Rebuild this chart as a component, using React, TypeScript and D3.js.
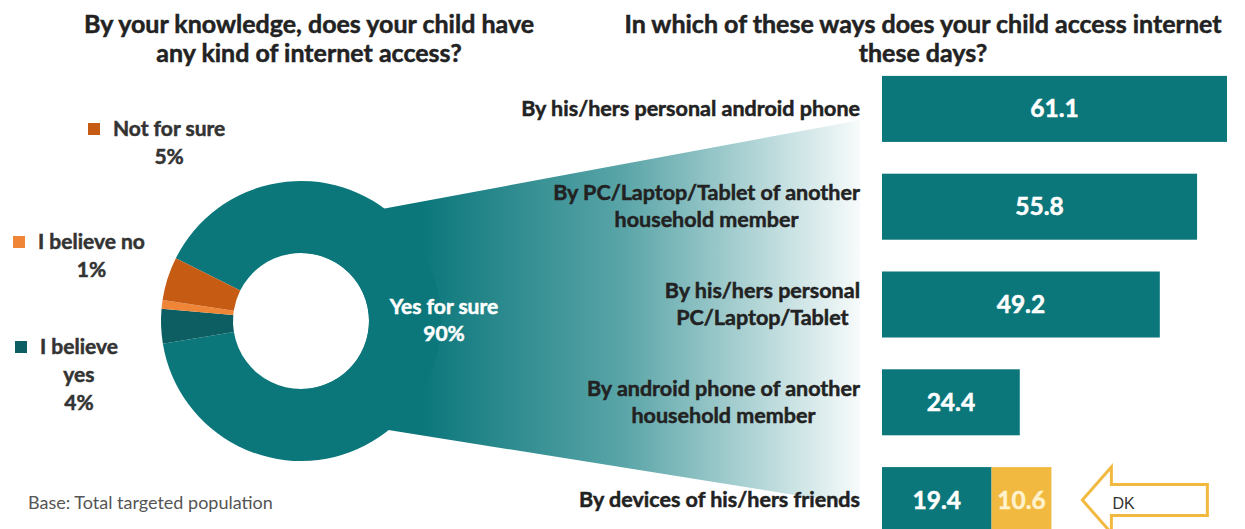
import React, { useEffect, useRef } from "react";
import * as d3 from "d3";

// donut: does the child have internet access
const pieLabels = ["Yes for sure", "I believe yes", "I believe no", "Not for sure"];
const pieValues = [90, 4, 1, 5];
const pieColors = ["#0b777b", "#0c5e63", "#ef8536", "#c65c14"];

// bars: ways of access
const barCategories = [
  "By his/hers personal android phone",
  "By PC/Laptop/Tablet of another|household member",
  "By his/hers personal|PC/Laptop/Tablet",
  "By android phone of another|household member",
  "By devices of his/hers friends",
];
const barValues = [61.1, 55.8, 49.2, 24.4, 19.4];
const dkValues = [0, 0, 0, 0, 10.6];

const leftTitle = ["By your knowledge, does your child have", "any kind of internet access?"];
const rightTitle = ["In which of these ways does your child access internet", "these days?"];

const W = 1245;
const H = 529;
const FONT = "Lato, 'Open Sans', sans-serif";

export default function App() {
  const ref = useRef<SVGSVGElement>(null);

  useEffect(() => {
    const svg = d3.select(ref.current);
    svg.selectAll("*").remove();

    const teal = "#0b777b";
    const gold = "#f2b940";

    // bold text helper, a thin stroke makes Lato look closer to the heavy original
    const bold = (sel: any, size: number, color: string) =>
      sel.attr("font-family", FONT).attr("font-weight", 700).attr("font-size", size)
        .attr("fill", color).attr("stroke", color).attr("stroke-width", 0.5);

    // scales
    const x = d3.scaleLinear().domain([0, 61.1]).range([882, 1227]);
    const y = d3.scaleBand<string>().domain(barCategories).range([27, 582]).paddingInner(0.325).paddingOuter(0.5);
    const bw = y.bandwidth();

    const cx = 301, cy = 321, rOut = 140, rIn = 68;

    // gradient for the funnel
    const defs = svg.append("defs");
    const grad = defs.append("linearGradient").attr("id", "funnel")
      .attr("gradientUnits", "userSpaceOnUse")
      .attr("x1", cx + rOut - 20).attr("x2", x(0) - 10).attr("y1", 0).attr("y2", 0);
    grad.append("stop").attr("offset", 0).attr("stop-color", teal);
    grad.append("stop").attr("offset", 0.45).attr("stop-color", "#5aa5a8");
    grad.append("stop").attr("offset", 1).attr("stop-color", "#ffffff");

    const fx = x(0) - 22;
    const topR = (y(barCategories[0]) as number) + bw * 0.67;
    const botR = (y(barCategories[4]) as number) + bw * 0.58;
    svg.append("path")
      .attr("d", `M${cx},${cy - 97}L${fx},${topR}L${fx},${botR}L${cx},${cy + 95}Z`)
      .attr("fill", "url(#funnel)");

    // donut
    const start = (-63.4 * Math.PI) / 180;
    const pie = d3.pie<number>().sort(null).value(d => d).startAngle(start).endAngle(start + 2 * Math.PI);
    const arc = d3.arc<d3.PieArcDatum<number>>().innerRadius(rIn).outerRadius(rOut);
    const dg = svg.append("g").attr("transform", `translate(${cx},${cy})`);
    dg.append("circle").attr("r", rIn).attr("fill", "#fff");
    dg.selectAll("path").data(pie(pieValues)).join("path")
      .attr("d", arc).attr("fill", (d, i) => pieColors[i]);

    bold(svg.append("text").attr("x", 444).attr("y", 314).attr("text-anchor", "middle"), 21, "#fff")
      .text(pieLabels[0]);
    bold(svg.append("text").attr("x", 444).attr("y", 341).attr("text-anchor", "middle"), 21, "#fff")
      .text(pieValues[0] + "%");

    // legend
    const legend = [
      { i: 3, x: 88, y: 129, lines: ["Not for sure"] },
      { i: 2, x: 13, y: 242, lines: ["I believe no"] },
      { i: 1, x: 15, y: 347, lines: ["I believe", "yes"] },
    ];
    legend.forEach(l => {
      const g = svg.append("g");
      g.append("rect").attr("x", l.x).attr("y", l.y - 6).attr("width", 12).attr("height", 12).attr("fill", pieColors[l.i]);
      const first = bold(g.append("text").attr("x", l.x + 25).attr("y", l.y + 7), 21, "#333")
        .text(l.lines[0]);
      const w = (first.node() as SVGTextElement).getComputedTextLength();
      const mid = l.x + 25 + w / 2;
      const rest = l.lines.slice(1).concat([pieValues[l.i] + "%"]);
      rest.forEach((t, k) => {
        bold(g.append("text").attr("x", mid).attr("y", l.y + 7 + 28 * (k + 1)).attr("text-anchor", "middle"), 21, "#333")
          .text(t);
      });
    });

    // titles
    [[leftTitle, 309], [rightTitle, 923]].forEach(([lines, tx]) => {
      (lines as string[]).forEach((t, k) => {
        bold(svg.append("text").attr("x", tx as number).attr("y", 33 + 29 * k).attr("text-anchor", "middle"), 25, "#222")
          .text(t);
      });
    });

    // bars
    svg.append("g").selectAll("rect").data(barCategories).join("rect")
      .attr("x", x(0)).attr("y", d => y(d) as number)
      .attr("width", (d, i) => x(barValues[i]) - x(0)).attr("height", bw)
      .attr("fill", teal);
    svg.append("g").selectAll("rect").data(barCategories).join("rect")
      .attr("x", (d, i) => x(barValues[i])).attr("y", d => y(d) as number)
      .attr("width", (d, i) => x(barValues[i] + dkValues[i]) - x(barValues[i])).attr("height", bw)
      .attr("fill", gold);

    bold(svg.append("g").selectAll("text").data(barCategories).join("text")
      .attr("x", (d, i) => (x(0) + x(barValues[i])) / 2)
      .attr("y", d => (y(d) as number) + bw / 2 + 8.5)
      .attr("text-anchor", "middle"), 24.5, "#fff")
      .text((d, i) => barValues[i].toFixed(1));
    bold(svg.append("g").selectAll("text").data(barCategories.filter((d, i) => dkValues[i] > 0)).join("text")
      .attr("x", d => { const i = barCategories.indexOf(d); return (x(barValues[i]) + x(barValues[i] + dkValues[i])) / 2; })
      .attr("y", d => (y(d) as number) + bw / 2 + 8.5)
      .attr("text-anchor", "middle"), 24.5, "#fff2cc")
      .text(d => dkValues[barCategories.indexOf(d)].toFixed(1));

    // category labels: right aligned blocks, centered lines
    barCategories.forEach(c => {
      const lines = c.split("|");
      const g = svg.append("g");
      const mid = (y(c) as number) + bw / 2;
      const texts = lines.map((t, k) =>
        bold(g.append("text").attr("y", mid + 7 + (k - (lines.length - 1) / 2) * 27)
          .attr("text-anchor", "middle"), 21.5, "#222")
          .text(t));
      const maxW = d3.max(texts, (t: any) => (t.node() as SVGTextElement).getComputedTextLength()) as number;
      texts.forEach((t: any) => t.attr("x", x(0) - 22 - maxW / 2));
    });

    // DK arrow
    const last = barCategories[4];
    const ay = (y(last) as number) + bw / 2;
    const tip = x(barValues[4] + dkValues[4]) + 31;
    const headX = tip + 29, endX = tip + 125;
    svg.append("path")
      .attr("d", `M${tip},${ay}L${headX},${ay - 33}L${headX},${ay - 15.5}L${endX},${ay - 15.5}L${endX},${ay + 15.5}L${headX},${ay + 15.5}L${headX},${ay + 33}Z`)
      .attr("fill", "#fff").attr("stroke", gold).attr("stroke-width", 3).attr("stroke-linejoin", "miter");
    svg.append("text").attr("x", headX + 1).attr("y", ay + 9)
      .attr("font-family", "'Liberation Sans', Arial, sans-serif").attr("font-size", 16).attr("fill", "#333")
      .text("DK");

    // base note
    svg.append("text").attr("x", 28).attr("y", 509)
      .attr("font-family", FONT).attr("font-size", 18).attr("fill", "#555")
      .text("Base: Total targeted population");
  }, []);

  return (
    <svg ref={ref} width={W} height={H}
      style={{ position: "absolute", left: 0, top: 0, background: "#fff" }} />
  );
}
